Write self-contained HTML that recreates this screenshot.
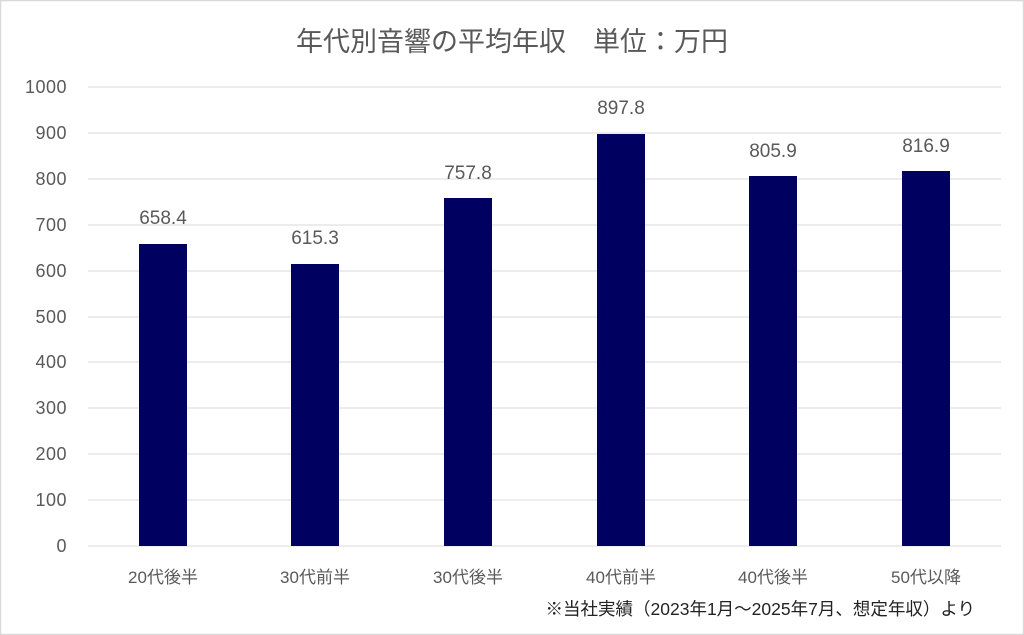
<!DOCTYPE html>
<html><head><meta charset="utf-8"><style>
html,body{margin:0;padding:0;background:#fff}
svg{display:block}
text{font-family:"Liberation Sans","Noto Sans CJK JP",sans-serif;fill:#595959}
</style></head><body>
<svg width="1024" height="635" viewBox="0 0 1024 635" xmlns="http://www.w3.org/2000/svg">
<rect x="0.5" y="0.5" width="1023" height="634" fill="#fff" stroke="#d9d9d9" stroke-width="1.5"/>
<text x="512" y="51" font-size="27" text-anchor="middle">年代別音響の平均年収　単位：万円</text>
<g stroke="#d9d9d9" stroke-width="1">
<line x1="88" x2="1001" y1="87" y2="87"/><line x1="88" x2="1001" y1="133" y2="133"/>
<line x1="88" x2="1001" y1="179" y2="179"/><line x1="88" x2="1001" y1="225" y2="225"/>
<line x1="88" x2="1001" y1="271" y2="271"/><line x1="88" x2="1001" y1="317" y2="317"/>
<line x1="88" x2="1001" y1="362" y2="362"/><line x1="88" x2="1001" y1="408" y2="408"/>
<line x1="88" x2="1001" y1="454" y2="454"/><line x1="88" x2="1001" y1="500" y2="500"/>
<line x1="88" x2="1001" y1="546" y2="546"/>
</g>
<g font-size="18" text-anchor="end" letter-spacing="0.5">
<text x="67" y="93">1000</text><text x="67" y="139">900</text><text x="67" y="185">800</text>
<text x="67" y="231">700</text><text x="67" y="277">600</text><text x="67" y="323">500</text>
<text x="67" y="368">400</text><text x="67" y="414">300</text><text x="67" y="460">200</text>
<text x="67" y="506">100</text><text x="67" y="552">0</text>
</g>
<g fill="#000060">
<rect x="139" y="244" width="48" height="302"/>
<rect x="291" y="264" width="48" height="282"/>
<rect x="444" y="198" width="48" height="348"/>
<rect x="597" y="134" width="48" height="412"/>
<rect x="749" y="176" width="48" height="370"/>
<rect x="902" y="171" width="48" height="375"/>
</g>
<g font-size="19" text-anchor="middle">
<text x="163" y="224">658.4</text><text x="315" y="244">615.3</text>
<text x="468" y="179">757.8</text><text x="621" y="114">897.8</text>
<text x="773" y="157">805.9</text><text x="926" y="152">816.9</text>
</g>
<g font-size="17" text-anchor="middle">
<text x="163" y="583">20代後半</text><text x="315" y="583">30代前半</text>
<text x="468" y="583">30代後半</text><text x="621" y="583">40代前半</text>
<text x="773" y="583">40代後半</text><text x="926" y="583">50代以降</text>
</g>
<text x="975" y="615" font-size="17.5" text-anchor="end" style="fill:#222">※当社実績（2023年1月～2025年7月、想定年収）より</text>
</svg>
</body></html>
